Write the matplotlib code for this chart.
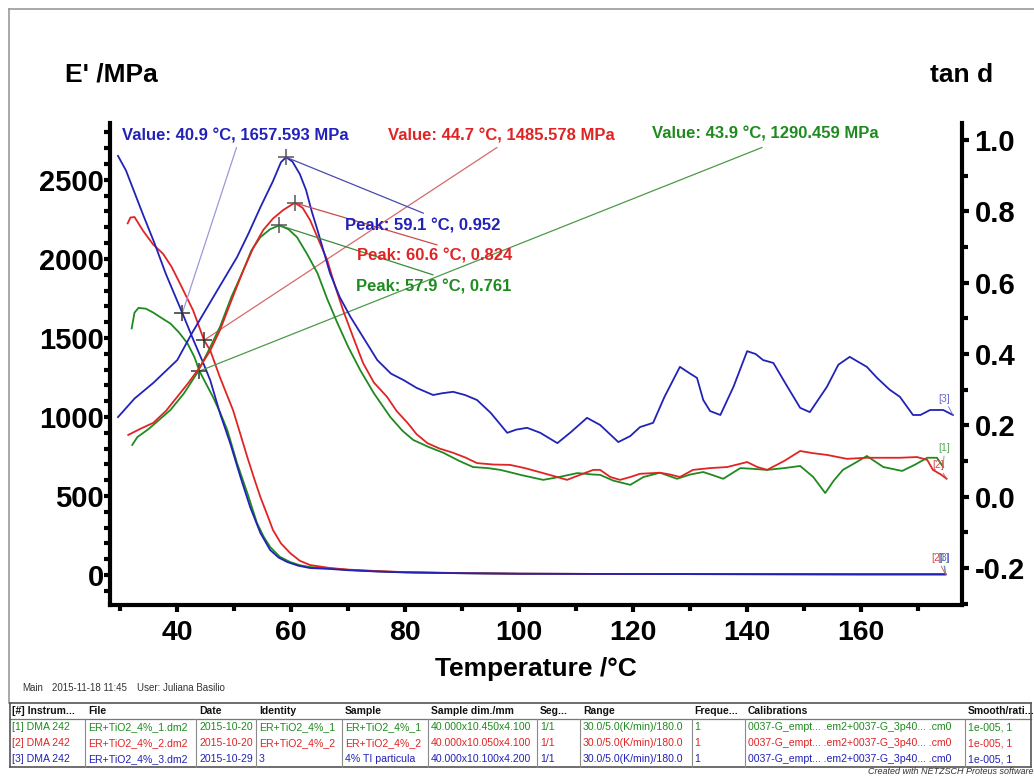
import numpy as np
import matplotlib
matplotlib.use("Agg")
import matplotlib.pyplot as plt
from matplotlib.lines import Line2D
from matplotlib.ticker import MultipleLocator

plt.rcParams['font.family'] = ['Liberation Sans', 'DejaVu Sans']

# ---------------- data ----------------
# tan d curves (temperature in degC, tan d)
t_tan_1 = [32.1, 33.0, 35.0, 36.8, 38.8, 41.2, 43.5, 45.5, 47.5, 49.5, 51.6, 53.0, 54.6, 56.3, 57.9,
           59.5, 61.0, 62.8, 64.6, 66.3, 68.1, 70.0, 72.1, 74.5, 77.4, 79.5, 81.4, 84.0, 86.7, 89.5,
           91.9, 94.5, 96.7, 100.5, 104.2, 107.0, 110.2, 113.0, 114.2, 116.5, 119.5, 121.8, 124.7,
           127.7, 130.0, 132.3, 134.0, 135.8, 138.8, 141.0, 143.5, 146.5, 149.3, 151.6, 153.7, 155.2,
           156.8, 159.0, 161.0, 163.9, 167.2, 169.5, 171.6, 173.3, 174.4]
tan_1 = [0.145, 0.167, 0.190, 0.215, 0.243, 0.290, 0.347, 0.410, 0.476, 0.560, 0.635, 0.690, 0.728,
         0.750, 0.761, 0.750, 0.728, 0.680, 0.627, 0.555, 0.487, 0.420, 0.355, 0.290, 0.223, 0.185,
         0.159, 0.140, 0.123, 0.100, 0.083, 0.080, 0.075, 0.060, 0.047, 0.055, 0.066, 0.062, 0.061,
         0.045, 0.033, 0.055, 0.067, 0.050, 0.062, 0.069, 0.060, 0.050, 0.080, 0.078, 0.075, 0.080,
         0.086, 0.055, 0.010, 0.045, 0.075, 0.095, 0.114, 0.083, 0.072, 0.090, 0.109, 0.109, 0.083]

t_tan_2 = [31.4, 33.5, 35.8, 38.0, 40.0, 42.0, 44.0, 45.8, 47.5, 49.5, 51.6, 53.4, 55.1, 56.8, 58.6,
           60.6, 62.0, 63.3, 64.8, 66.3, 67.7, 69.1, 70.8, 72.6, 74.5, 76.8, 78.5, 80.4, 82.0, 83.9,
           86.0, 88.4, 90.5, 92.6, 95.5, 98.4, 101.0, 104.2, 106.0, 108.4, 110.5, 113.0, 114.2, 116.0,
           117.7, 119.5, 121.2, 124.7, 126.5, 128.2, 130.5, 133.5, 136.5, 140.0, 141.8, 143.5, 146.5,
           149.3, 151.5, 154.0, 157.5, 161.0, 166.8, 169.8, 171.6, 172.6, 174.0, 175.0]
tan_2 = [0.173, 0.190, 0.207, 0.240, 0.280, 0.320, 0.364, 0.410, 0.467, 0.550, 0.635, 0.700, 0.748,
         0.780, 0.804, 0.824, 0.810, 0.776, 0.720, 0.664, 0.590, 0.523, 0.450, 0.375, 0.320, 0.280,
         0.240, 0.207, 0.175, 0.150, 0.135, 0.123, 0.110, 0.094, 0.090, 0.089, 0.080, 0.066, 0.058,
         0.047, 0.060, 0.075, 0.075, 0.055, 0.047, 0.055, 0.064, 0.067, 0.062, 0.055, 0.075, 0.080,
         0.083, 0.097, 0.083, 0.075, 0.100, 0.128, 0.122, 0.117, 0.106, 0.109, 0.109, 0.111, 0.103,
         0.075, 0.062, 0.050]

t_tan_3 = [29.6, 32.5, 35.8, 40.0, 42.6, 45.3, 47.9, 50.5, 52.5, 54.6, 56.8, 58.2, 59.1, 60.2, 61.5,
           62.6, 63.6, 64.6, 66.8, 68.5, 70.4, 72.5, 75.1, 77.5, 79.7, 82.0, 84.9, 86.5, 88.4, 90.5,
           92.6, 95.0, 97.9, 99.5, 101.4, 103.7, 106.7, 109.0, 111.9, 114.2, 117.4, 119.5, 121.2,
           123.5, 125.5, 128.2, 130.0, 131.2, 132.3, 133.5, 135.3, 137.6, 140.0, 141.5, 142.8, 144.6,
           147.0, 149.3, 151.0, 154.0, 156.0, 158.0, 161.0, 162.8, 165.0, 166.8, 169.1, 170.4, 172.1,
           174.4, 176.1]
tan_3 = [0.223, 0.275, 0.319, 0.383, 0.459, 0.532, 0.602, 0.672, 0.738, 0.812, 0.885, 0.938, 0.952,
         0.940, 0.905, 0.860, 0.800, 0.748, 0.627, 0.560, 0.504, 0.450, 0.383, 0.345, 0.327, 0.305,
         0.285, 0.290, 0.294, 0.285, 0.271, 0.235, 0.179, 0.188, 0.193, 0.179, 0.150, 0.180, 0.221,
         0.201, 0.153, 0.170, 0.195, 0.207, 0.280, 0.364, 0.345, 0.333, 0.271, 0.240, 0.229, 0.308,
         0.408, 0.400, 0.383, 0.375, 0.310, 0.249, 0.237, 0.308, 0.370, 0.392, 0.364, 0.333, 0.300,
         0.280, 0.229, 0.229, 0.243, 0.243, 0.229]

# storage modulus curves (temperature in degC, E' in MPa)
t_e_1 = [32.0, 32.5, 33.2, 34.5, 35.8, 37.3, 38.8, 40.3, 41.8, 43.0, 43.9, 45.2, 46.3, 47.5, 48.8,
         50.5, 52.3, 54.0, 55.2, 56.3, 58.0, 59.8, 61.5, 63.3, 66.8, 70.0, 75.0, 80.0, 90.0, 100.0,
         120.0, 140.0, 160.0, 174.8]
e_1 = [1560, 1660, 1690, 1685, 1660, 1625, 1591, 1535, 1465, 1380, 1290, 1200, 1124, 1030, 915,
       707, 518, 328, 240, 177, 115, 82, 62, 50, 42, 32, 23, 17, 11, 8, 6, 5, 4, 4]

t_e_2 = [31.3, 31.8, 32.5, 34.0, 35.8, 37.5, 39.0, 40.5, 42.8, 44.7, 45.8, 47.5, 49.8, 51.0, 52.3,
         53.5, 54.6, 55.8, 56.8, 58.2, 59.8, 61.5, 63.3, 66.8, 70.0, 75.0, 80.0, 90.0, 100.0, 120.0,
         140.0, 160.0, 174.8]
e_2 = [2225, 2262, 2265, 2178, 2090, 2033, 1950, 1843, 1673, 1486, 1420, 1250, 1042, 900, 745,
       610, 492, 380, 284, 200, 139, 90, 63, 44, 34, 25, 18, 12, 8, 6, 5, 4, 4]

t_e_3 = [29.6, 31.0, 32.5, 34.0, 36.0, 38.0, 40.9, 42.8, 44.6, 45.8, 47.5, 49.3, 51.1, 52.8, 54.6,
         56.3, 57.8, 59.3, 61.3, 63.3, 66.8, 70.0, 75.0, 80.0, 90.0, 100.0, 120.0, 140.0, 160.0, 174.8]
e_3 = [2652, 2560, 2420, 2280, 2100, 1905, 1657, 1490, 1338, 1231, 1023, 833, 619, 429, 265,
       158, 110, 82, 58, 44, 38, 30, 22, 16, 11, 8, 6, 5, 4, 4]

# evaluated points
value_T = [43.9, 44.7, 40.9]
value_E = [1290.459, 1485.578, 1657.593]
peak_T = [57.9, 60.6, 59.1]
peak_tan = [0.761, 0.824, 0.952]

series_ids = ["[1]", "[2]", "[3]"]

table_headers = ["[#] Instrum...", "File", "Date", "Identity", "Sample", "Sample dim./mm",
                 "Seg...", "Range", "Freque...", "Calibrations", "Smooth/rati..."]
table_rows = [
    ["[1] DMA 242", "ER+TiO2_4%_1.dm2", "2015-10-20", "ER+TiO2_4%_1", "ER+TiO2_4%_1",
     "40.000x10.450x4.100", "1/1", "30.0/5.0(K/min)/180.0", "1",
     "0037-G_empt... .em2+0037-G_3p40... .cm0", "1e-005, 1"],
    ["[2] DMA 242", "ER+TiO2_4%_2.dm2", "2015-10-20", "ER+TiO2_4%_2", "ER+TiO2_4%_2",
     "40.000x10.050x4.100", "1/1", "30.0/5.0(K/min)/180.0", "1",
     "0037-G_empt... .em2+0037-G_3p40... .cm0", "1e-005, 1"],
    ["[3] DMA 242", "ER+TiO2_4%_3.dm2", "2015-10-29", "3", "4% TI particula",
     "40.000x10.100x4.200", "1/1", "30.0/5.0(K/min)/180.0", "1",
     "0037-G_empt... .em2+0037-G_3p40... .cm0", "1e-005, 1"],
]

# ---------------- style ----------------
GREEN = '#1f8a1f'
RED = '#e02424'
BLUE = '#2222b8'
colors = [GREEN, RED, BLUE]
label_colors = ['#5aa85a', '#d85050', '#6a6ad0']
value_leader = ['#4a9a4a', '#d46a6a', '#9a9ad8']
peak_leader = ['#3a8a3a', '#cc4a4a', '#4a4ab0']

W, H = 1034, 776
fig = plt.figure(figsize=(W / 100, H / 100), dpi=100)


def fx(px):
    return px / W


def fy(py):
    return 1 - py / H


ax = fig.add_axes([fx(110), fy(605), fx(962) - fx(110), fy(123) - fy(605)])
ax2 = ax.twinx()

ax.set_xlim(28.2, 177.7)
ax.set_ylim(-190, 2860)
ax2.set_ylim(-0.304, 1.048)

# curves
for t, e, c in zip([t_e_1, t_e_2, t_e_3], [e_1, e_2, e_3], colors):
    ax.plot(t, e, color=c, lw=1.3, zorder=3)
for t, v, c in zip([t_tan_1, t_tan_2, t_tan_3], [tan_1, tan_2, tan_3], colors):
    ax2.plot(t, v, color=c, lw=1.3, zorder=3)

# spines and ticks
for a in (ax, ax2):
    a.spines['top'].set_visible(False)
ax.spines['right'].set_visible(False)
ax2.spines['left'].set_visible(False)
ax2.spines['bottom'].set_visible(False)
for sp in (ax.spines['left'], ax.spines['bottom'], ax2.spines['right']):
    sp.set_linewidth(3)

ax.xaxis.set_major_locator(MultipleLocator(20))
ax.xaxis.set_minor_locator(MultipleLocator(10))
ax.yaxis.set_major_locator(MultipleLocator(500))
ax.yaxis.set_minor_locator(MultipleLocator(100))
ax2.yaxis.set_major_locator(MultipleLocator(0.2))
ax2.yaxis.set_minor_locator(MultipleLocator(0.1))

ax.set_yticks(np.arange(0, 2501, 500))
tan_ticks = np.round(np.arange(-0.2, 1.01, 0.2), 1)
ax2.set_yticks(tan_ticks)
ax2.set_yticklabels([f"{v:.1f}" for v in tan_ticks])

ax.tick_params(axis='x', which='both', direction='out', width=3, labelsize=20.5, pad=6)
ax.tick_params(axis='x', which='major', length=5)
ax.tick_params(axis='x', which='minor', length=4)
ax.tick_params(axis='y', which='both', direction='out', width=3, labelsize=21, pad=0.5)
ax.tick_params(axis='y', which='major', length=4)
ax.tick_params(axis='y', which='minor', length=4)
ax2.tick_params(axis='y', which='both', direction='out', width=3, labelsize=21, pad=4)
ax2.tick_params(axis='y', which='major', length=5)
ax2.tick_params(axis='y', which='minor', length=4)
for lab in ax.get_xticklabels() + ax.get_yticklabels() + ax2.get_yticklabels():
    lab.set_fontweight('bold')

ax.set_xlabel("Temperature /\u00b0C", fontsize=19, fontweight='bold', labelpad=8)
fig.text(fx(65), fy(75), "E' /MPa", fontsize=19, fontweight='bold', ha='left', va='center')
fig.text(fx(993), fy(75), "tan d", fontsize=19, fontweight='bold', ha='right', va='center')

# evaluated E' values
value_text_pos = [(123.3, 2790), (77.0, 2778), (30.3, 2778)]
value_leader_end = [(142.6, 2705), (96.1, 2705), (50.4, 2705)]
for i in range(3):
    ax.annotate('', xy=(value_T[i], value_E[i]), xytext=value_leader_end[i],
                arrowprops=dict(arrowstyle='-', color=value_leader[i], lw=0.9,
                                shrinkA=0, shrinkB=0), zorder=4)
    ax.plot([value_T[i]], [value_E[i]], marker='+', ms=12, mew=1.1, color='#333333', zorder=6)
    ax.text(value_text_pos[i][0], value_text_pos[i][1],
            f"Value: {value_T[i]:.1f} \u00b0C, {value_E[i]:.3f} MPa",
            color=colors[i], fontsize=12, fontweight='bold', ha='left', va='center', zorder=7)

# tan d peaks
peak_text_pos = [(71.3, 0.588), (71.6, 0.675), (69.5, 0.759)]
peak_leader_end = [(84.9, 0.622), (85.6, 0.706), (83.2, 0.795)]
for i in range(3):
    ax2.annotate('', xy=(peak_T[i], peak_tan[i]), xytext=peak_leader_end[i],
                 arrowprops=dict(arrowstyle='-', color=peak_leader[i], lw=0.9,
                                 shrinkA=0, shrinkB=0), zorder=4)
    ax2.plot([peak_T[i]], [peak_tan[i]], marker='+', ms=12, mew=1.1, color='#555555', zorder=6)
    ax2.text(peak_text_pos[i][0], peak_text_pos[i][1],
             f"Peak: {peak_T[i]:.1f} \u00b0C, {peak_tan[i]:.3f}",
             color=colors[i], fontsize=12, fontweight='bold', ha='left', va='center', zorder=7)

# curve identifiers at the curve ends
tan_ends = [(t_tan_1[-1], tan_1[-1]), (t_tan_2[-1], tan_2[-1]), (t_tan_3[-1], tan_3[-1])]
tan_offsets = [(1, 10), (-6, 6), (-6, 8)]
for i in range(3):
    ax2.annotate(series_ids[i], xy=tan_ends[i], xytext=tan_offsets[i], textcoords='offset points',
                 color=label_colors[i], fontsize=7.5, ha='center', va='bottom',
                 arrowprops=dict(arrowstyle='-', color=label_colors[i], lw=0.6,
                                 shrinkA=0, shrinkB=0), annotation_clip=False)
# the three modulus identifiers sit almost on top of each other at the end of the run
e_ends = [(t_e_1[-1], e_1[-1]), (t_e_2[-1], e_2[-1]), (t_e_3[-1], e_3[-1])]
e_offsets = [(-2, 8), (-6, 8), (-1, 8)]
for i in range(3):
    ax.annotate(series_ids[i], xy=e_ends[i], xytext=e_offsets[i], textcoords='offset points',
                color=label_colors[i], fontsize=7.5, ha='center', va='bottom',
                arrowprops=dict(arrowstyle='-', color=label_colors[i], lw=0.6,
                                shrinkA=0, shrinkB=0), annotation_clip=False)

# page frame
fig.add_artist(Line2D([fx(9), 1.0], [fy(9), fy(9)], color='#9a9a9a', lw=1.2))
fig.add_artist(Line2D([fx(9), fx(9)], [fy(9), fy(703)], color='#9a9a9a', lw=1.2))

# header line under the chart
fig.text(fx(22), fy(688), "Main", fontsize=7, color='#333333', va='center')
fig.text(fx(52), fy(688), "2015-11-18 11:45", fontsize=7, color='#333333', va='center')
fig.text(fx(137), fy(688), "User: Juliana Basilio", fontsize=7, color='#333333', va='center')

# measurement table
col_x = [12, 88, 199, 259, 345, 431, 540, 583, 694, 748, 968]
col_sep = [85, 196, 256, 342, 428, 537, 580, 692, 745, 965]
row_y = [727, 743, 759]
tbl_left, tbl_right, tbl_top, tbl_head, tbl_bottom = 10, 1031, 703, 719, 767

for y in (tbl_top, tbl_bottom):
    fig.add_artist(Line2D([fx(tbl_left), fx(tbl_right)], [fy(y), fy(y)], color='#555555', lw=1.2))
fig.add_artist(Line2D([fx(tbl_left), fx(tbl_right)], [fy(tbl_head), fy(tbl_head)],
                      color='#777777', lw=0.9))
for x in (tbl_left, tbl_right):
    fig.add_artist(Line2D([fx(x), fx(x)], [fy(tbl_top), fy(tbl_bottom)], color='#555555', lw=1.2))
for x in col_sep:
    fig.add_artist(Line2D([fx(x), fx(x)], [fy(tbl_head), fy(tbl_bottom)], color='#8a8a8a', lw=0.8))

for x, h in zip(col_x, table_headers):
    fig.text(fx(x), fy(711), h, fontsize=7.5, fontweight='bold', color='#111111', va='center')
for r, (row, y) in enumerate(zip(table_rows, row_y)):
    for x, cell in zip(col_x, row):
        fig.text(fx(x), fy(y), cell, fontsize=7.6, color=colors[r], va='center')

fig.text(fx(868), fy(772), "Created with NETZSCH Proteus software", fontsize=6.5,
         style='italic', color='#333333', va='center', ha='left')

fig.savefig("out.png", dpi=100, facecolor='white')
